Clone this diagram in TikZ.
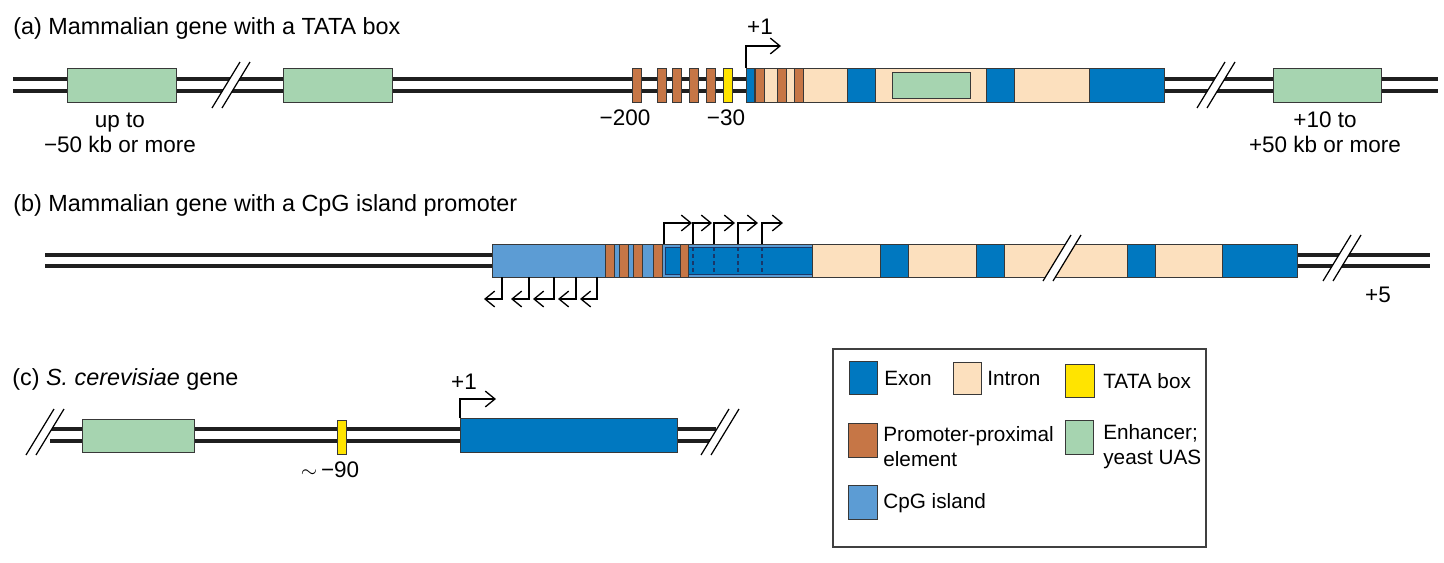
\documentclass[tikz,border=0pt]{standalone}
\usepackage{fontspec}
\setmainfont{Liberation Sans}
\usetikzlibrary{arrows.meta}

\definecolor{exonblue}{RGB}{0,120,192}
\definecolor{intronpeach}{RGB}{252,224,190}
\definecolor{tatayellow}{RGB}{255,228,0}
\definecolor{proxbrown}{RGB}{198,118,70}
\definecolor{enhgreen}{RGB}{166,212,176}
\definecolor{cpgblue}{RGB}{92,156,212}
\definecolor{dashnavy}{RGB}{25,55,105}

\newcommand{\ttlfont}{\fontsize{13.3}{16}\selectfont}
\newcommand{\lblfont}{\fontsize{12.8}{14.4}\selectfont}
\newcommand{\keyfont}{\fontsize{11.8}{14.2}\selectfont}

\newcommand{\cutmark}[2]{%
  \fill[white] (#1-19,#2+23) -- (#1-9,#2+23) -- (#1+19,#2-23) -- (#1+9,#2-23) -- cycle;
  \draw[line width=0.7pt] (#1-19,#2+23) -- (#1+9,#2-23) (#1-9,#2+23) -- (#1+19,#2-23);}

\tikzset{
  dna/.style={line width=2.3pt, draw=black!88},
  part/.style={draw=black!78, line width=0.55pt},
  exon/.style={part, fill=exonblue},
  intron/.style={part, fill=intronpeach},
  tata/.style={part, fill=tatayellow},
  prox/.style={part, fill=proxbrown},
  enh/.style={part, fill=enhgreen},
  cpg/.style={part, fill=cpgblue},
  tss/.style={->, line width=0.75pt},
  ttl/.style={anchor=west, inner sep=0pt, font=\ttlfont},
  lbl/.style={inner sep=0pt, align=center, font=\lblfont},
  key/.style={anchor=west, inner sep=0pt, align=left, font=\keyfont}
}

\begin{document}
\begin{tikzpicture}[x=0.02cm, y=-0.02cm, >={Straight Barb[length=5.5pt,width=9pt]}]
  \useasboundingbox (0,0) rectangle (1444,562);

  % (a)
  \node[ttl] (tita) at (13,28) {(a) Mammalian gene with a TATA box};
  \draw[dna] (13,79) -- (1438,79) (13,91) -- (1438,91);
  \cutmark{231}{85}
  \cutmark{1216}{85}
  \draw[enh] (67,68) rectangle (176,102);
  \draw[enh] (283,68) rectangle (392,102);
  \draw[enh] (1273,68) rectangle (1381,102);
  \foreach \x in {632,657,672,689,706}
    \draw[prox] (\x,68) rectangle +(9.5,34);
  \draw[tata] (723,68) rectangle (732,102);
  \draw[exon] (746,68) rectangle (754,102);
  \draw[intron] (754,68) rectangle (847,102);
  \foreach \x in {755,777,794}
    \draw[prox] (\x,68) rectangle +(9,34);
  \draw[exon] (847,68) rectangle (875,102);
  \draw[intron] (875,68) rectangle (986,102);
  \draw[enh] (892,72) rectangle (970,98);
  \draw[exon] (986,68) rectangle (1014,102);
  \draw[intron] (1014,68) rectangle (1089,102);
  \draw[exon] (1089,68) rectangle (1164,102);
  \coordinate (tssa) at (746,68);
  \coordinate (tssaend) at (781,46);
  \draw[tss] (tssa) |- (tssaend);
  \node[lbl] (plusonea) at (760,27) {+1};
  \node[lbl] (upstream) at (120,132.5) {up to\\−50 kb or more};
  \node[lbl] (mtwohundred) at (625,118) {−200};
  \node[lbl] (mthirty) at (726,118) {−30};
  \node[lbl] (downstream) at (1325,132.5) {+10 to\\+50 kb or more};

  % (b)
  \node[ttl] (titb) at (13,205) {(b) Mammalian gene with a CpG island promoter};
  \draw[dna] (45,255) -- (492,255) (45,266) -- (492,266);
  \draw[dna] (1297,255) -- (1430,255) (1297,266) -- (1430,266);
  \cutmark{1342}{258}
  \draw[cpg] (492,244) rectangle (812,277);
  \foreach \x in {605,619,633,653}
    \draw[prox] (\x,244) rectangle +(9,33);
  \draw[exon, draw=dashnavy] (665,247) rectangle (812,274);
  \draw[prox] (680,244) rectangle (688,277);
  \foreach \x in {693,714,738,762}
    \draw[dashnavy, line width=0.7pt, dash pattern=on 2.5pt off 1.5pt] (\x,247) -- (\x,274);
  \draw[intron] (812,244) rectangle (880,277);
  \draw[exon] (880,244) rectangle (908,277);
  \draw[intron] (908,244) rectangle (976,277);
  \draw[exon] (976,244) rectangle (1004,277);
  \draw[intron] (1004,244) rectangle (1127,277);
  \cutmark{1062}{258}
  \draw[exon] (1127,244) rectangle (1155,277);
  \draw[intron] (1155,244) rectangle (1222,277);
  \draw[exon] (1222,244) rectangle (1297,277);
  \foreach \x/\e in {664/692,693/712,714/735,738/758,762/783}
    \draw[tss] (\x,244) |- (\e,223);
  \foreach \x/\e in {502/484,529/511,554/533,576/558,597/580}
    \draw[tss] (\x,277) |- (\e,299);
  \node[lbl] (plusfive) at (1378,295) {+5};

  % (c)
  \node[ttl] (titc) at (12,379) {(c) \textit{S. cerevisiae} gene};
  \draw[dna] (50,429) -- (716,429) (50,441) -- (716,441);
  \cutmark{45}{432}
  \cutmark{720}{432}
  \draw[enh] (82,419) rectangle (194,452);
  \draw[tata] (337,420) rectangle (346,454);
  \draw[exon] (460,418) rectangle (677,452);
  \coordinate (tssc) at (460,418);
  \coordinate (tsscend) at (496,399);
  \draw[tss] (tssc) |- (tsscend);
  \node[lbl] (plusonec) at (464,382) {+1};
  \node[lbl] (mninety) at (330,470) {$\sim$\,−90};

  % key
  \draw[line width=0.6pt, draw=black!75] (833,349) rectangle (1206,547);
  \draw[exon] (849,361) rectangle +(28,33);
  \node[key] (kexon) at (884,378) {Exon};
  \draw[intron] (953,362) rectangle +(28,32);
  \node[key] (kintron) at (987,378) {Intron};
  \draw[tata] (1065,364) rectangle +(29,33);
  \node[key] (ktata) at (1103,381) {TATA box};
  \draw[prox] (848,423) rectangle +(29,34);
  \node[key] (kprox) at (883,447) {Promoter-proximal\\element};
  \draw[enh] (1065,420) rectangle +(28,34);
  \node[key] (kenh) at (1103,447) {Enhancer;\\yeast UAS};
  \draw[cpg] (848,485) rectangle +(29,34);
  \node[key] (kcpg) at (883,503) {CpG island};
\end{tikzpicture}
\end{document}
